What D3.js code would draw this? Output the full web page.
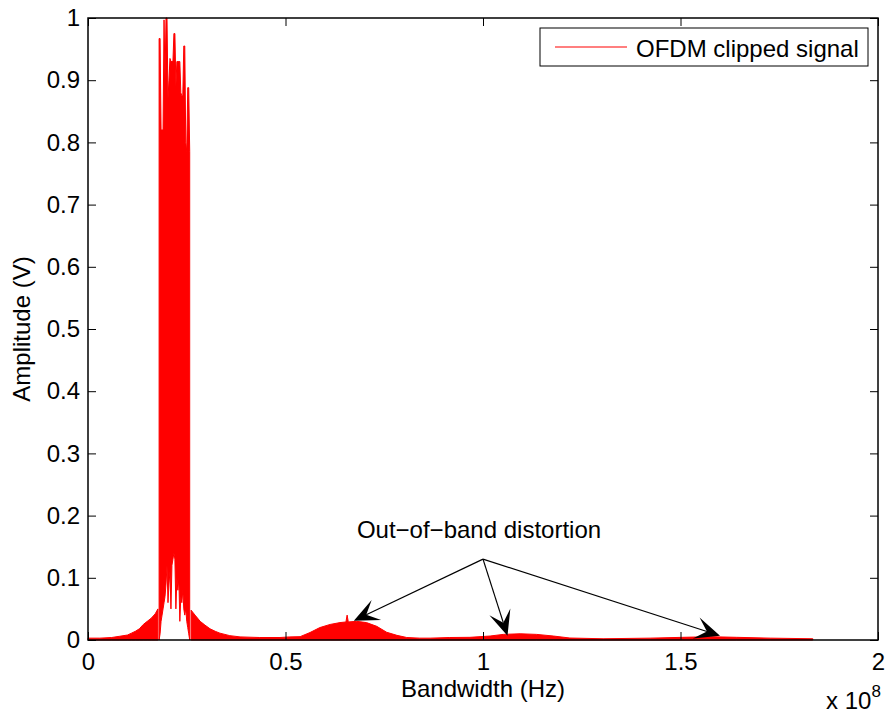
<!DOCTYPE html>
<html>
<head>
<meta charset="utf-8">
<script src="https://cdn.jsdelivr.net/npm/d3@7"></script>
<style>
  html, body { margin: 0; padding: 0; background: #fff; }
  #container { width: 889px; height: 718px; }
  text { font-family: "Liberation Sans", Arial, Helvetica, sans-serif; }
</style>
</head>
<body>
<div id="container"></div>
<script>
// ---- data (frequency in MHz, amplitude in V) ----
// left skirt of the OFDM band: [MHz, amplitude]
const leftSkirt = [
  [0, 0.003], [3, 0.003], [6, 0.004], [8, 0.006], [10, 0.008], [11, 0.011],
  [12, 0.014], [13, 0.018], [14, 0.025], [15, 0.03], [16, 0.035], [17, 0.042],
  [17.7, 0.05]
];

// main band, one sample every 0.25 MHz starting at 18 MHz
const mainStart = 18.0;
const mainStep = 0.25;
const mainHi = [0.967, 0.967, 0.82, 0.82, 0.82, 0.997, 0.90, 1.0, 1.0, 0.87, 0.90, 0.935,
  0.93, 0.93, 0.93, 0.975, 0.975, 0.89, 0.93, 0.93, 0.93, 0.93, 0.88, 0.875,
  0.875, 0.955, 0.955, 0.80, 0.785, 0.888, 0.888, 0.785];
const mainLo = [0, 0.01, 0.03, 0.04, 0.05, 0.06, 0.07, 0.09, 0.12, 0.06, 0.09, 0.11,
  0.05, 0.12, 0.13, 0.14, 0.13, 0.05, 0.10, 0.08, 0.10, 0.03, 0.07, 0.06,
  0.08, 0.05, 0.04, 0.05, 0.03, 0.02, 0.01, 0];

// right skirt + out-of-band lobes: [MHz, amplitude]
const rightSkirt = [
  [26.1, 0.048], [27.1, 0.04], [28.4, 0.03], [29.6, 0.024], [30.9, 0.018],
  [32.2, 0.014], [33.4, 0.011], [35.9, 0.007], [38.5, 0.005], [43.5, 0.004],
  [48.6, 0.004], [51.1, 0.005], [53.7, 0.0054], [56.2, 0.012], [58.7, 0.02],
  [61.3, 0.025], [63.8, 0.028], [65.3, 0.029], [65.6, 0.040], [65.9, 0.029],
  [68, 0.03], [70.5, 0.028], [73.1, 0.022], [75.6, 0.0125], [78.2, 0.0075],
  [80.7, 0.004], [84, 0.003], [86.6, 0.003], [91.6, 0.004], [96.7, 0.0043],
  [101.8, 0.0064], [105.1, 0.009], [109.4, 0.010], [113.6, 0.009], [117.8, 0.0064],
  [122, 0.0032], [130.4, 0.002], [142.3, 0.003], [150.6, 0.0043], [157.5, 0.0053],
  [164.2, 0.0043], [172.7, 0.003], [183.5, 0.002]
];

const xTicks = [0, 0.5e8, 1e8, 1.5e8, 2e8];
const xTickLabels = ["0", "0.5", "1", "1.5", "2"];
const yTicks = [0, 0.1, 0.2, 0.3, 0.4, 0.5, 0.6, 0.7, 0.8, 0.9, 1];
const yTickLabels = ["0", "0.1", "0.2", "0.3", "0.4", "0.5", "0.6", "0.7", "0.8", "0.9", "1"];

// annotation: arrows from one point (Hz, V) to three lobes
const arrowFrom = [1.0e8, 0.13];
const arrowTips = [[0.673e8, 0.031], [1.062e8, 0.0068], [1.6e8, 0.0068]];

// ---- layout ----
const width = 889;
const height = 718;
const marginTop = 18;
const marginRight = 11;
const marginBottom = 78;
const marginLeft = 88;
const fontSize = 24;

const svg = d3.select("#container")
  .append("svg")
  .attr("width", width)
  .attr("height", height)
  .attr("viewBox", [0, 0, width, height]);

const x = d3.scaleLinear().domain([0, 2e8]).range([marginLeft, width - marginRight]);
const y = d3.scaleLinear().domain([0, 1]).range([height - marginBottom, marginTop]);

// ---- signal ----
const mainBand = mainHi.map((v, i) => ({ f: mainStart + i * mainStep, hi: v, lo: mainLo[i] }));

const skirtArea = d3.area()
  .x(d => x(d[0] * 1e6))
  .y0(y(0))
  .y1(d => y(d[1]));

const bandArea = d3.area()
  .x(d => x(d.f * 1e6))
  .y0(d => y(d.lo))
  .y1(d => y(d.hi));

const sig = svg.append("g")
  .attr("fill", "#ff0000")
  .attr("stroke", "#ff0000")
  .attr("stroke-width", 1)
  .attr("stroke-linejoin", "round");

sig.append("path").attr("d", skirtArea(leftSkirt));
sig.append("path").attr("d", skirtArea(rightSkirt));
sig.append("path").attr("d", bandArea(mainBand));

// ---- axes (MATLAB style: box, inward ticks on all sides) ----
const tickLen = 8;

svg.append("g")
  .attr("transform", `translate(0,${y(0)})`)
  .call(d3.axisBottom(x).tickValues(xTicks).tickFormat((d, i) => xTickLabels[i])
    .tickSizeInner(-tickLen).tickSizeOuter(0).tickPadding(13))
  .call(g => g.select(".domain").remove())
  .call(g => g.selectAll("text").attr("font-size", fontSize).attr("font-family", null).attr("fill", "#000"));

svg.append("g")
  .attr("transform", `translate(0,${y(1)})`)
  .call(d3.axisTop(x).tickValues(xTicks).tickFormat("")
    .tickSizeInner(-tickLen).tickSizeOuter(0))
  .call(g => g.select(".domain").remove());

svg.append("g")
  .attr("transform", `translate(${x(0)},0)`)
  .call(d3.axisLeft(y).tickValues(yTicks).tickFormat((d, i) => yTickLabels[i])
    .tickSizeInner(-tickLen).tickSizeOuter(0).tickPadding(8))
  .call(g => g.select(".domain").remove())
  .call(g => g.selectAll("text").attr("font-size", fontSize).attr("font-family", null).attr("fill", "#000"));

svg.append("g")
  .attr("transform", `translate(${x(2e8)},0)`)
  .call(d3.axisRight(y).tickValues(yTicks).tickFormat("")
    .tickSizeInner(-tickLen).tickSizeOuter(0))
  .call(g => g.select(".domain").remove());

svg.append("rect")
  .attr("x", x(0))
  .attr("y", y(1))
  .attr("width", x(2e8) - x(0))
  .attr("height", y(0) - y(1))
  .attr("fill", "none")
  .attr("stroke", "#000")
  .attr("stroke-width", 1.5);

// exponent label
svg.append("text")
  .attr("x", 826)
  .attr("y", 709)
  .attr("font-size", fontSize)
  .text("x 10")
  .append("tspan")
  .attr("dy", -12)
  .attr("font-size", 17)
  .text("8");

// axis titles
svg.append("text")
  .attr("x", (x(0) + x(2e8)) / 2)
  .attr("y", 697)
  .attr("text-anchor", "middle")
  .attr("font-size", fontSize)
  .text("Bandwidth (Hz)");

svg.append("text")
  .attr("transform", `translate(30,${(y(0) + y(1)) / 2}) rotate(-90)`)
  .attr("text-anchor", "middle")
  .attr("font-size", fontSize)
  .text("Amplitude (V)");

// ---- legend ----
const legend = svg.append("g");
legend.append("rect")
  .attr("x", 540).attr("y", 28).attr("width", 328).attr("height", 38)
  .attr("fill", "#fff").attr("stroke", "#000").attr("stroke-width", 1);
legend.append("line")
  .attr("x1", 555).attr("x2", 627).attr("y1", 47).attr("y2", 47)
  .attr("stroke", "#ff0000").attr("stroke-width", 1.2);
legend.append("text")
  .attr("x", 636).attr("y", 56.5)
  .attr("font-size", fontSize)
  .text("OFDM clipped signal");

// ---- annotation ----
svg.append("text")
  .attr("x", 479)
  .attr("y", 538)
  .attr("text-anchor", "middle")
  .attr("font-size", fontSize)
  .text("Out\u2212of\u2212band distortion");

const ann = svg.append("g");
const [fx, fy] = [x(arrowFrom[0]), y(arrowFrom[1])];
const headL = 25, headW = 11, notch = 0.55;
arrowTips.forEach(t => {
  const tx = x(t[0]), ty = y(t[1]);
  const len = Math.hypot(tx - fx, ty - fy);
  const ux = (tx - fx) / len, uy = (ty - fy) / len;
  const nx = -uy, ny = ux;
  ann.append("line")
    .attr("x1", fx).attr("y1", fy)
    .attr("x2", tx - ux * headL * notch).attr("y2", ty - uy * headL * notch)
    .attr("stroke", "#000").attr("stroke-width", 1.2);
  const pts = [
    [tx, ty],
    [tx - ux * headL + nx * headW, ty - uy * headL + ny * headW],
    [tx - ux * headL * notch, ty - uy * headL * notch],
    [tx - ux * headL - nx * headW, ty - uy * headL - ny * headW]
  ];
  ann.append("path")
    .attr("d", "M" + pts.map(p => p.join(",")).join("L") + "Z")
    .attr("fill", "#000");
});
</script>
</body>
</html>
